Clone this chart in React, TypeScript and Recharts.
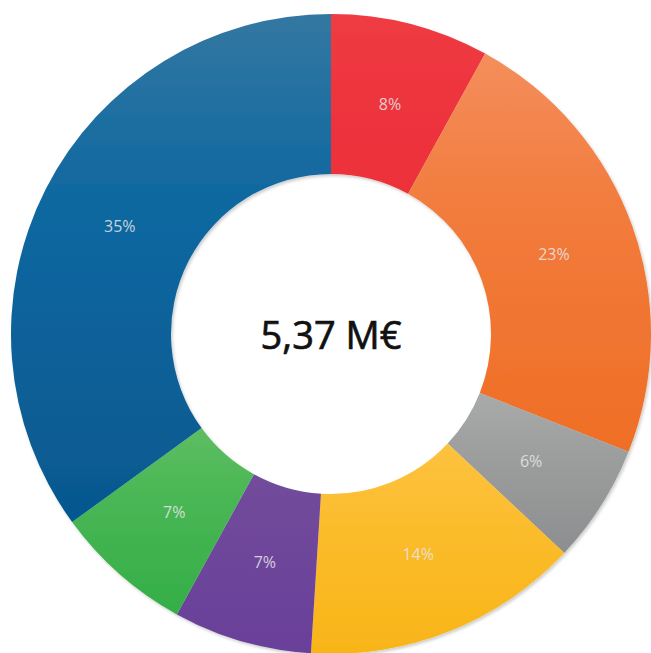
import { PieChart, Pie, Cell } from 'recharts';

// slice order: clockwise from 12 o'clock
const shares = [8, 23, 6, 14, 7, 7, 35];
const labels = ['8%', '23%', '6%', '14%', '7%', '7%', '35%'];
const topColors = ['#EF3B43', '#F48E5C', '#A9ABAB', '#FDC23F', '#724C9C', '#5EBE62', '#3377A2'];
const midColors = ['#EE353E', '#F27B3C', '#9C9E9E', '#FBBC2C', '#6E469A', '#48B654', '#0B67A0'];
const bottomColors = ['#EC3039', '#EF6E25', '#8C8E8F', '#F8B518', '#69409A', '#34AE47', '#06588F'];
const totalLabel = '5,37 M€';

const data = shares.map((v, i) => ({ name: labels[i], value: v }));

const CX = 331;
const CY = 334;
const INNER = 160;
const OUTER = 320;
const RAD = Math.PI / 180;

function SliceLabel(props: any) {
  const { cx, cy, midAngle, innerRadius, outerRadius, index } = props;
  const r = (innerRadius + outerRadius) / 2 - 3;
  const x = cx + r * Math.cos(-midAngle * RAD);
  const y = cy + r * Math.sin(-midAngle * RAD);
  return (
    <text
      x={x}
      y={y}
      textAnchor="middle"
      dominantBaseline="central"
      fill="rgba(232,232,232,0.85)"
      fontSize={16}
      fontFamily="'Open Sans', sans-serif"
    >
      {labels[index]}
    </text>
  );
}

export default function App() {
  return (
    <div style={{ position: 'absolute', left: 0, top: 0, width: 651, height: 653, background: '#fff' }}>
      <style>{`.recharts-pie { filter: url(#donutShadow); }`}</style>
      <PieChart width={651} height={653} margin={{ top: 0, right: 0, bottom: 0, left: 0 }}>
        <defs>
          {shares.map((_, i) => (
            <linearGradient key={i} id={`g${i}`} x1="0" y1="0" x2="0" y2="1">
              <stop offset="0%" stopColor={topColors[i]} />
              <stop offset="40%" stopColor={midColors[i]} />
              <stop offset="100%" stopColor={bottomColors[i]} />
            </linearGradient>
          ))}
          <filter id="donutShadow" x="-10%" y="-10%" width="120%" height="120%">
            <feDropShadow dx="1.5" dy="2" stdDeviation="1.5" floodColor="#000" floodOpacity="0.2" />
          </filter>
        </defs>
        <Pie
          data={data}
          dataKey="value"
          cx={CX}
          cy={CY}
          innerRadius={INNER}
          outerRadius={OUTER}
          startAngle={90}
          endAngle={-270}
          stroke="none"
          label={SliceLabel}
          labelLine={false}
          isAnimationActive={false}
        >
          {data.map((_, i) => (
            <Cell key={i} fill={`url(#g${i})`} stroke="none" />
          ))}
        </Pie>
        <text
          x={CX}
          y={CY}
          textAnchor="middle"
          dominantBaseline="central"
          fontSize={38}
          fontFamily="'Open Sans', sans-serif"
          fill="#111"
          stroke="#111"
          strokeWidth={0.7}
        >
          {totalLabel}
        </text>
      </PieChart>
    </div>
  );
}
